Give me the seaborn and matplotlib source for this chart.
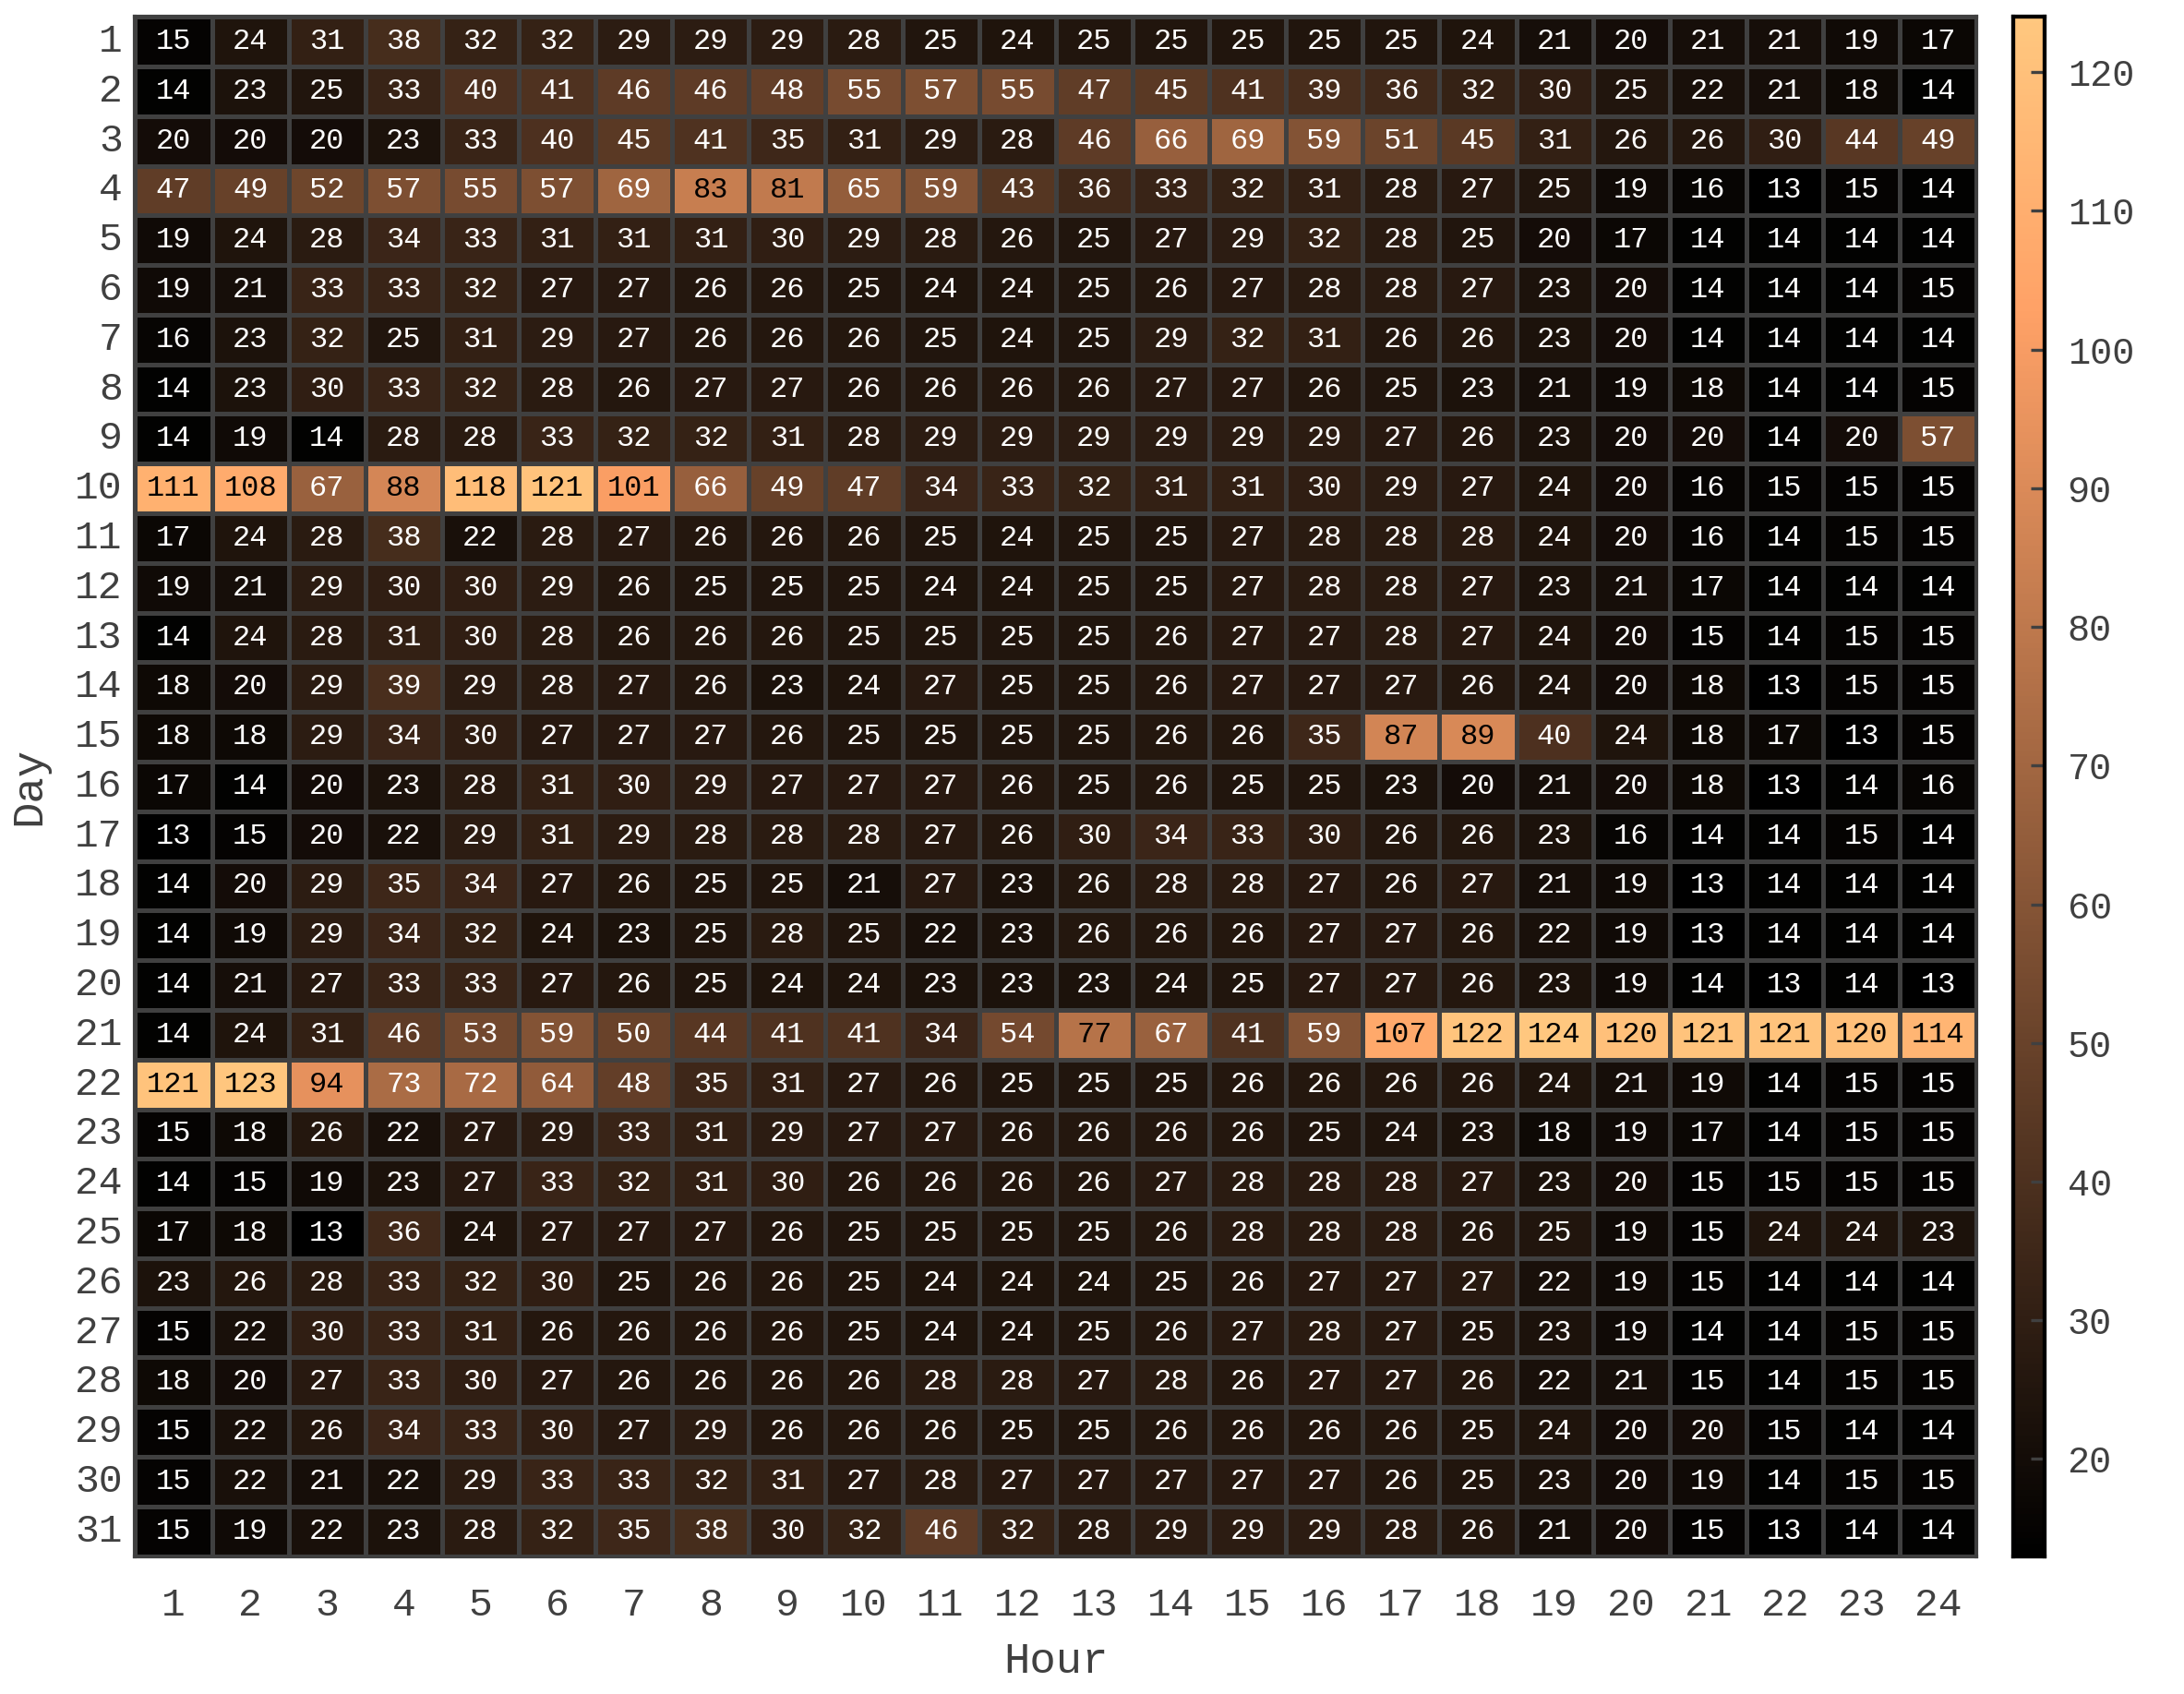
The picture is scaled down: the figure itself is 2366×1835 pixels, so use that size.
import numpy as np
import pandas as pd
import matplotlib
matplotlib.use('Agg')
import matplotlib.pyplot as plt
import seaborn as sns

# Data
hours = list(range(1, 25))
days = list(range(1, 32))

day01 = [15, 24, 31, 38, 32, 32, 29, 29, 29, 28, 25, 24, 25, 25, 25, 25, 25, 24, 21, 20, 21, 21, 19, 17]
day02 = [14, 23, 25, 33, 40, 41, 46, 46, 48, 55, 57, 55, 47, 45, 41, 39, 36, 32, 30, 25, 22, 21, 18, 14]
day03 = [20, 20, 20, 23, 33, 40, 45, 41, 35, 31, 29, 28, 46, 66, 69, 59, 51, 45, 31, 26, 26, 30, 44, 49]
day04 = [47, 49, 52, 57, 55, 57, 69, 83, 81, 65, 59, 43, 36, 33, 32, 31, 28, 27, 25, 19, 16, 13, 15, 14]
day05 = [19, 24, 28, 34, 33, 31, 31, 31, 30, 29, 28, 26, 25, 27, 29, 32, 28, 25, 20, 17, 14, 14, 14, 14]
day06 = [19, 21, 33, 33, 32, 27, 27, 26, 26, 25, 24, 24, 25, 26, 27, 28, 28, 27, 23, 20, 14, 14, 14, 15]
day07 = [16, 23, 32, 25, 31, 29, 27, 26, 26, 26, 25, 24, 25, 29, 32, 31, 26, 26, 23, 20, 14, 14, 14, 14]
day08 = [14, 23, 30, 33, 32, 28, 26, 27, 27, 26, 26, 26, 26, 27, 27, 26, 25, 23, 21, 19, 18, 14, 14, 15]
day09 = [14, 19, 14, 28, 28, 33, 32, 32, 31, 28, 29, 29, 29, 29, 29, 29, 27, 26, 23, 20, 20, 14, 20, 57]
day10 = [111, 108, 67, 88, 118, 121, 101, 66, 49, 47, 34, 33, 32, 31, 31, 30, 29, 27, 24, 20, 16, 15, 15, 15]
day11 = [17, 24, 28, 38, 22, 28, 27, 26, 26, 26, 25, 24, 25, 25, 27, 28, 28, 28, 24, 20, 16, 14, 15, 15]
day12 = [19, 21, 29, 30, 30, 29, 26, 25, 25, 25, 24, 24, 25, 25, 27, 28, 28, 27, 23, 21, 17, 14, 14, 14]
day13 = [14, 24, 28, 31, 30, 28, 26, 26, 26, 25, 25, 25, 25, 26, 27, 27, 28, 27, 24, 20, 15, 14, 15, 15]
day14 = [18, 20, 29, 39, 29, 28, 27, 26, 23, 24, 27, 25, 25, 26, 27, 27, 27, 26, 24, 20, 18, 13, 15, 15]
day15 = [18, 18, 29, 34, 30, 27, 27, 27, 26, 25, 25, 25, 25, 26, 26, 35, 87, 89, 40, 24, 18, 17, 13, 15]
day16 = [17, 14, 20, 23, 28, 31, 30, 29, 27, 27, 27, 26, 25, 26, 25, 25, 23, 20, 21, 20, 18, 13, 14, 16]
day17 = [13, 15, 20, 22, 29, 31, 29, 28, 28, 28, 27, 26, 30, 34, 33, 30, 26, 26, 23, 16, 14, 14, 15, 14]
day18 = [14, 20, 29, 35, 34, 27, 26, 25, 25, 21, 27, 23, 26, 28, 28, 27, 26, 27, 21, 19, 13, 14, 14, 14]
day19 = [14, 19, 29, 34, 32, 24, 23, 25, 28, 25, 22, 23, 26, 26, 26, 27, 27, 26, 22, 19, 13, 14, 14, 14]
day20 = [14, 21, 27, 33, 33, 27, 26, 25, 24, 24, 23, 23, 23, 24, 25, 27, 27, 26, 23, 19, 14, 13, 14, 13]
day21 = [14, 24, 31, 46, 53, 59, 50, 44, 41, 41, 34, 54, 77, 67, 41, 59, 107, 122, 124, 120, 121, 121, 120, 114]
day22 = [121, 123, 94, 73, 72, 64, 48, 35, 31, 27, 26, 25, 25, 25, 26, 26, 26, 26, 24, 21, 19, 14, 15, 15]
day23 = [15, 18, 26, 22, 27, 29, 33, 31, 29, 27, 27, 26, 26, 26, 26, 25, 24, 23, 18, 19, 17, 14, 15, 15]
day24 = [14, 15, 19, 23, 27, 33, 32, 31, 30, 26, 26, 26, 26, 27, 28, 28, 28, 27, 23, 20, 15, 15, 15, 15]
day25 = [17, 18, 13, 36, 24, 27, 27, 27, 26, 25, 25, 25, 25, 26, 28, 28, 28, 26, 25, 19, 15, 24, 24, 23]
day26 = [23, 26, 28, 33, 32, 30, 25, 26, 26, 25, 24, 24, 24, 25, 26, 27, 27, 27, 22, 19, 15, 14, 14, 14]
day27 = [15, 22, 30, 33, 31, 26, 26, 26, 26, 25, 24, 24, 25, 26, 27, 28, 27, 25, 23, 19, 14, 14, 15, 15]
day28 = [18, 20, 27, 33, 30, 27, 26, 26, 26, 26, 28, 28, 27, 28, 26, 27, 27, 26, 22, 21, 15, 14, 15, 15]
day29 = [15, 22, 26, 34, 33, 30, 27, 29, 26, 26, 26, 25, 25, 26, 26, 26, 26, 25, 24, 20, 20, 15, 14, 14]
day30 = [15, 22, 21, 22, 29, 33, 33, 32, 31, 27, 28, 27, 27, 27, 27, 27, 26, 25, 23, 20, 19, 14, 15, 15]
day31 = [15, 19, 22, 23, 28, 32, 35, 38, 30, 32, 46, 32, 28, 29, 29, 29, 28, 26, 21, 20, 15, 13, 14, 14]

rows = [day01, day02, day03, day04, day05, day06, day07, day08, day09, day10,
        day11, day12, day13, day14, day15, day16, day17, day18, day19, day20,
        day21, day22, day23, day24, day25, day26, day27, day28, day29, day30, day31]

df = pd.DataFrame(rows, index=days, columns=hours)

vmin, vmax = 13, 124
grey = '#404040'
font = ['Liberation Mono', 'DejaVu Sans Mono']
plt.rcParams['font.family'] = font

fig = plt.figure(figsize=(11.83, 9.175), dpi=200)
ax = fig.add_axes([0.0619, 0.0814, 0.8431, 0.9087])
cax = fig.add_axes([0.922, 0.0814, 0.014, 0.9087])

sns.heatmap(
    df,
    ax=ax,
    cbar_ax=cax,
    cmap='copper',
    vmin=vmin,
    vmax=vmax,
    annot=True,
    fmt='d',
    annot_kws={'size': 11.5},
    linewidths=1.1,
    linecolor=grey,
)

# text colour: black on light cells, white on dark ones
cmap = plt.get_cmap('copper')
for t in ax.texts:
    v = float(t.get_text())
    r, g, b, _ = cmap((v - vmin) / (vmax - vmin))
    lum = 0.299 * r + 0.587 * g + 0.114 * b
    t.set_color('black' if lum > 0.5 else 'white')

# outer frame
for s in ax.spines.values():
    s.set_visible(True)
    s.set_color(grey)
    s.set_linewidth(1.5)

ax.tick_params(axis='both', length=0, colors=grey, labelsize=15.5)
ax.tick_params(axis='x', pad=12)
ax.tick_params(axis='y', pad=5)
ax.set_yticklabels(days, rotation=0)
ax.set_xticklabels(hours, rotation=0)
ax.set_xlabel('Hour', fontsize=17, color=grey, labelpad=7)
ax.set_ylabel('Day', fontsize=17, color=grey, labelpad=10)

# colorbar styling
cax.set_yticks([20, 30, 40, 50, 60, 70, 80, 90, 100, 110, 120])
cax.tick_params(axis='y', direction='in', length=5.5, width=1.2, colors=grey,
                labelsize=14.5, pad=9)
for s in cax.spines.values():
    s.set_visible(True)
    s.set_color('black')
    s.set_linewidth(1.5)

fig.savefig('out.png', dpi=200)
